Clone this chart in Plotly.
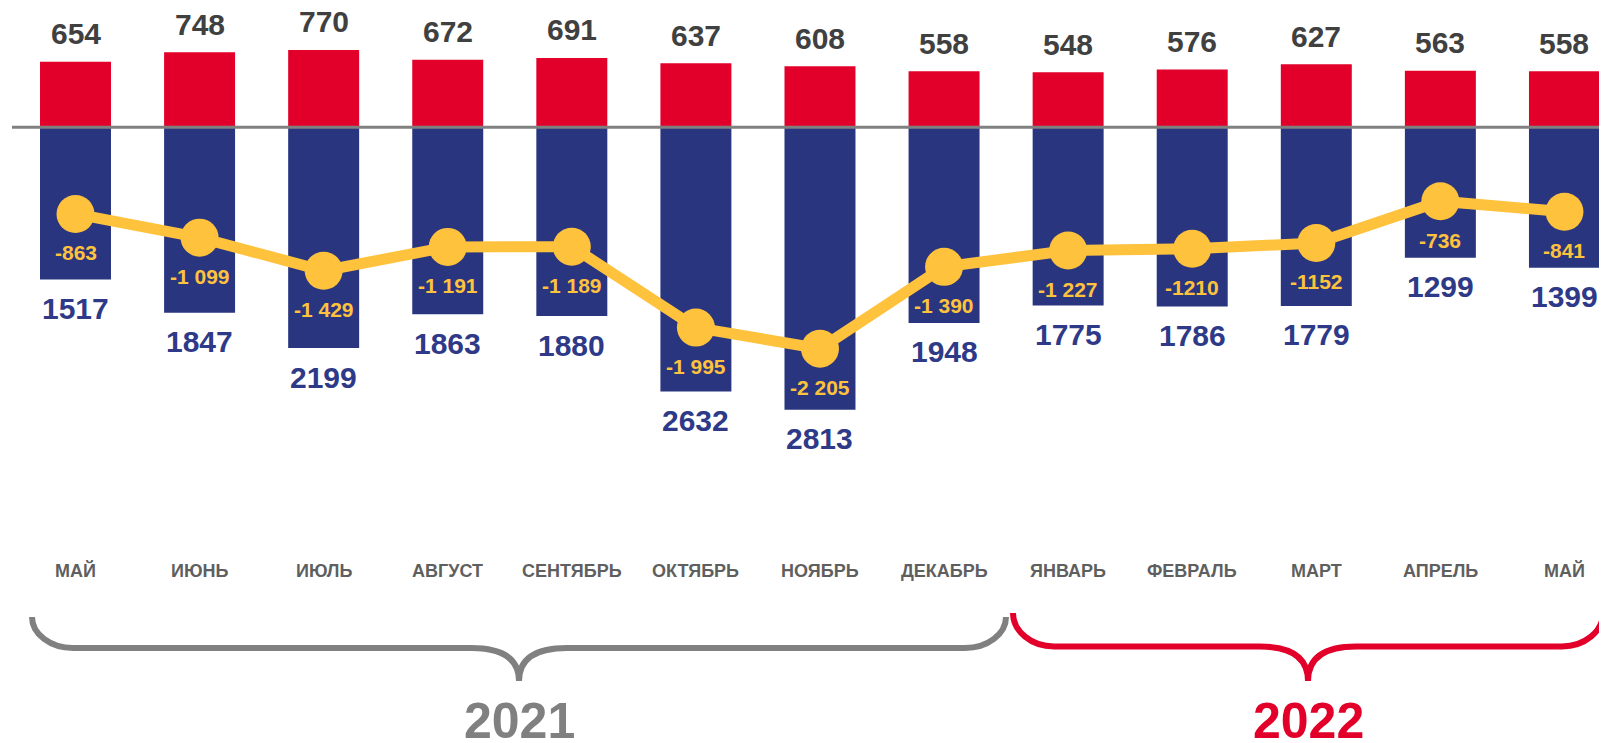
import plotly.graph_objects as go

# ---------------- data ----------------
months = ["МАЙ", "ИЮНЬ", "ИЮЛЬ", "АВГУСТ", "СЕНТЯБРЬ", "ОКТЯБРЬ", "НОЯБРЬ",
          "ДЕКАБРЬ", "ЯНВАРЬ", "ФЕВРАЛЬ", "МАРТ", "АПРЕЛЬ", "МАЙ"]
red_values = [654, 748, 770, 672, 691, 637, 608, 558, 548, 576, 627, 563, 558]
blue_values = [1517, 1847, 2199, 1863, 1880, 2632, 2813, 1948, 1775, 1786, 1779, 1299, 1399]
line_values = [-863, -1099, -1429, -1191, -1189, -1995, -2205, -1390, -1227, -1210, -1152, -736, -841]
line_labels = ["-863", "-1 099", "-1 429", "-1 191", "-1 189", "-1 995", "-2 205",
               "-1 390", "-1 227", "-1210", "-1152", "-736", "-841"]
years = ["2021", "2022"]

# ---------------- layout constants ----------------
PAGE_W, PAGE_H = 1607, 743
OFF = 8                                 # default body margin of the html page
W, H = PAGE_W - OFF, PAGE_H - OFF
X0_PX, STEP_PX = 75.5, 124.08           # page pixel centre of first category, spacing
ZERO_PX, K = 127.3, 0.1004              # page pixel row of zero, pixels per unit

FONT = "Liberation Sans, Arial, sans-serif"
RED = "#E2002B"
BLUE = "#29367F"
YELLOW = "#FFC23C"
GREY = "#808080"

x = list(range(len(months)))
x_range = [-(X0_PX - OFF) / STEP_PX, (PAGE_W - X0_PX) / STEP_PX]
y_range = [-(PAGE_H - ZERO_PX) / K, (ZERO_PX - OFF) / K]


def px_to_x(px):
    return (px - X0_PX) / STEP_PX


def py_to_paper(py):
    return 1 - (py - OFF) / H


fig = go.Figure()
fig.add_trace(go.Bar(x=x, y=red_values, marker=dict(color=RED, line=dict(width=0)),
                     width=0.572, hoverinfo="skip"))
fig.add_trace(go.Bar(x=x, y=[-v for v in blue_values],
                     marker=dict(color=BLUE, line=dict(width=0)),
                     width=0.572, hoverinfo="skip"))
fig.add_trace(go.Scatter(x=x, y=line_values, mode="lines+markers",
                         line=dict(color=YELLOW, width=11),
                         marker=dict(color=YELLOW, size=38),
                         hoverinfo="skip"))

ann = []
for i in x:
    ann.append(dict(x=i, y=red_values[i], xref="x", yref="y", text=str(red_values[i]),
                    showarrow=False, yanchor="middle", yshift=28,
                    font=dict(family=FONT, size=30, color="#404040", weight="bold")))
    ann.append(dict(x=i, y=-blue_values[i], xref="x", yref="y", text=str(blue_values[i]),
                    showarrow=False, yanchor="middle", yshift=-29,
                    font=dict(family=FONT, size=30, color="#2E3A87", weight="bold")))
    ann.append(dict(x=i, y=line_values[i], xref="x", yref="y", text=line_labels[i],
                    showarrow=False, yanchor="middle", yshift=-39,
                    font=dict(family=FONT, size=21, color=YELLOW, weight="bold")))
    ann.append(dict(x=i, y=py_to_paper(570.7), xref="x", yref="paper", text=months[i],
                    showarrow=False, yanchor="middle",
                    font=dict(family=FONT, size=18, color="#5F5F5F", weight="bold")))

shapes = [dict(type="line", xref="x", yref="y", x0=px_to_x(12), x1=px_to_x(PAGE_W + 5),
               y0=0, y1=0, line=dict(color=GREY, width=3), layer="above")]


def brace(xa, xb, top_px, hy_px, tip_px, color):
    rx = 41 / STEP_PX
    mw = 48 / STEP_PX
    xm = (xa + xb) / 2
    t, h, p = py_to_paper(top_px), py_to_paper(hy_px), py_to_paper(tip_px)
    c1 = py_to_paper(top_px + 0.55 * (hy_px - top_px))
    path = (f"M {xa},{t} C {xa},{c1} {xa + 0.45 * rx},{h} {xa + rx},{h} "
            f"L {xm - mw},{h} Q {xm},{h} {xm},{p} "
            f"Q {xm},{h} {xm + mw},{h} "
            f"L {xb - rx},{h} C {xb - 0.45 * rx},{h} {xb},{c1} {xb},{t}")
    return dict(type="path", xref="x", yref="paper", path=path,
                line=dict(color=color, width=6), layer="above")


brace_colors = [GREY, RED]
brace_ends_px = [(32, 1006), (1013, 1603)]
brace_tops = [617, 613]
brace_hy = [648, 646.5]
for k in range(2):
    xa, xb = px_to_x(brace_ends_px[k][0]), px_to_x(brace_ends_px[k][1])
    shapes.append(brace(xa, xb, brace_tops[k], brace_hy[k], 681, brace_colors[k]))
    ann.append(dict(x=(xa + xb) / 2, y=py_to_paper(720.5), xref="x", yref="paper",
                    text=years[k], showarrow=False, yanchor="middle",
                    font=dict(family=FONT, size=50, color=brace_colors[k], weight="bold")))

fig.update_layout(
    width=W, height=H,
    margin=dict(l=0, r=0, t=0, b=0, pad=0),
    barmode="relative",
    showlegend=False,
    plot_bgcolor="white", paper_bgcolor="white",
    xaxis=dict(range=x_range, visible=False, fixedrange=True),
    yaxis=dict(range=y_range, visible=False, fixedrange=True),
    annotations=ann,
    shapes=shapes,
)

fig.write_html("out.html", config={"displayModeBar": False})
